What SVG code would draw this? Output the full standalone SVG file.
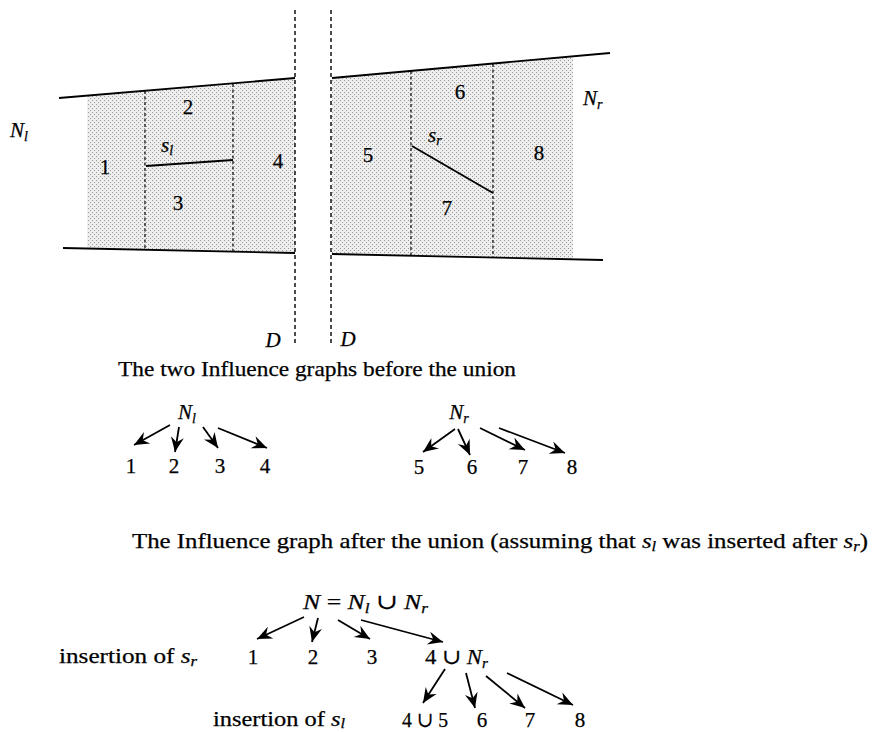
<svg xmlns="http://www.w3.org/2000/svg" width="877" height="732" viewBox="0 0 877 732">
<defs>
<pattern id="dots" width="4" height="4" patternUnits="userSpaceOnUse">
<rect width="4" height="4" fill="#eeeeee"/>
<rect x="0" y="0" width="1" height="1" fill="#999"/>
<rect x="2" y="2" width="1" height="1" fill="#999"/>
</pattern>
<marker id="ah" viewBox="-16 -8 17 16" refX="0" refY="0" markerWidth="17" markerHeight="16" markerUnits="userSpaceOnUse" orient="auto">
<path d="M0,0 L-15,-6.5 L-10,0 L-15,6.5 Z" fill="#000"/>
</marker>
<style>
text{font-family:"Liberation Serif","DejaVu Serif",serif;font-size:21px;fill:#000;stroke:#000;stroke-width:0.25}
.c{text-anchor:middle}
.i{font-style:italic}
.sub{font-size:14px;font-style:italic}
.ln{stroke:#000;stroke-width:1.8;fill:none}
.dl{stroke:#000;stroke-width:1.4;stroke-dasharray:4 3;fill:none}
.dv{stroke:#000;stroke-width:1.2;stroke-dasharray:3 2.5;fill:none}
.ar{stroke:#000;stroke-width:1.8;fill:none;marker-end:url(#ah)}
</style>
</defs>
<rect width="877" height="732" fill="#fff"/>

<g id="plan">
<polygon points="87,95.6 295,78 295,253 87,248.5" fill="url(#dots)"/>
<polygon points="332,78 573,56.3 573,259.3 332,254" fill="url(#dots)"/>
<line class="ln" x1="59" y1="98" x2="295" y2="78"/>
<line class="ln" x1="63" y1="248" x2="295" y2="253"/>
<line class="ln" x1="332" y1="78" x2="610" y2="53"/>
<line class="ln" x1="332" y1="254" x2="603" y2="260"/>
<line class="dv" x1="145" y1="91" x2="145" y2="250"/>
<line class="dv" x1="233" y1="84" x2="233" y2="252"/>
<line class="dv" x1="411" y1="71" x2="411" y2="256"/>
<line class="dv" x1="493" y1="64" x2="493" y2="258"/>
<line class="dl" x1="295" y1="10" x2="295" y2="344"/>
<line class="dl" x1="331" y1="10" x2="331" y2="344"/>
<line class="ln" x1="146" y1="166" x2="233" y2="160"/>
<line class="ln" x1="412" y1="146" x2="493" y2="193"/>
<text class="c" x="105" y="174">1</text>
<text class="c" x="188" y="114">2</text>
<text class="c" x="178" y="210">3</text>
<text class="c" x="278" y="168">4</text>
<text class="c" x="368" y="162">5</text>
<text class="c" x="460" y="99">6</text>
<text class="c" x="447" y="215">7</text>
<text class="c" x="539" y="160">8</text>
<text class="i" x="161" y="152">s<tspan class="sub" dy="3">l</tspan></text>
<text class="i" x="428" y="142">s<tspan class="sub" dy="3">r</tspan></text>
<text class="i" x="10" y="137">N<tspan class="sub" dy="4">l</tspan></text>
<text class="i" x="583" y="105">N<tspan class="sub" dy="4">r</tspan></text>
<text class="i c" x="273" y="347">D</text>
<text class="i c" x="348" y="346">D</text>
</g>

<text id="caption1" x="118" y="376" textLength="398" lengthAdjust="spacingAndGlyphs">The two Influence graphs before the union</text>

<g id="n-Nl"><text class="i c" x="187" y="419">N<tspan class="sub" dy="4">l</tspan></text></g>
<g id="n-1"><text class="c" x="131" y="473">1</text></g>
<g id="n-2"><text class="c" x="174" y="473">2</text></g>
<g id="n-3"><text class="c" x="220" y="473">3</text></g>
<g id="n-4"><text class="c" x="265" y="473">4</text></g>
<g id="n-Nr"><text class="i c" x="459" y="419">N<tspan class="sub" dy="4">r</tspan></text></g>
<g id="n-5"><text class="c" x="419" y="474">5</text></g>
<g id="n-6"><text class="c" x="472" y="474">6</text></g>
<g id="n-7"><text class="c" x="523" y="474">7</text></g>
<g id="n-8"><text class="c" x="572" y="474">8</text></g>

<text id="caption2" x="132" y="548" textLength="736" lengthAdjust="spacingAndGlyphs">The Influence graph after the union (assuming that <tspan class="i">s</tspan><tspan class="sub" dy="3">l</tspan><tspan dy="-3"> was inserted after </tspan><tspan class="i">s</tspan><tspan class="sub" dy="3">r</tspan><tspan dy="-3">)</tspan></text>

<g id="n-N"><text x="303" y="609" textLength="125" lengthAdjust="spacingAndGlyphs"><tspan class="i">N</tspan> = <tspan class="i">N</tspan><tspan class="sub" dy="4">l</tspan><tspan dy="-4"> ∪ </tspan><tspan class="i">N</tspan><tspan class="sub" dy="4">r</tspan></text></g>
<text id="lbl-sr" x="59" y="663" textLength="138" lengthAdjust="spacingAndGlyphs">insertion of <tspan class="i">s</tspan><tspan class="sub" dy="3">r</tspan></text>
<g id="m-1"><text class="c" x="253" y="664">1</text></g>
<g id="m-2"><text class="c" x="313" y="664">2</text></g>
<g id="m-3"><text class="c" x="372" y="664">3</text></g>
<g id="m-4Nr"><text x="425" y="664" textLength="63" lengthAdjust="spacingAndGlyphs">4 ∪ <tspan class="i">N</tspan><tspan class="sub" dy="4">r</tspan></text></g>
<text id="lbl-sl" x="213" y="726" textLength="132" lengthAdjust="spacingAndGlyphs">insertion of <tspan class="i">s</tspan><tspan class="sub" dy="2">l</tspan></text>
<g id="m-45"><text x="402" y="727" textLength="46" lengthAdjust="spacingAndGlyphs">4 ∪ 5</text></g>
<g id="m-6"><text class="c" x="482" y="727">6</text></g>
<g id="m-7"><text class="c" x="530" y="727">7</text></g>
<g id="m-8"><text class="c" x="580" y="727">8</text></g>

<g id="connectors">
<line class="ar" x1="170" y1="425" x2="134" y2="445"/>
<line class="ar" x1="179" y1="427" x2="175" y2="452"/>
<line class="ar" x1="203" y1="427" x2="218" y2="448"/>
<line class="ar" x1="218" y1="428" x2="267" y2="448"/>
<line class="ar" x1="455" y1="429" x2="423" y2="452"/>
<line class="ar" x1="458" y1="429" x2="470" y2="455"/>
<line class="ar" x1="480" y1="428" x2="525" y2="450"/>
<line class="ar" x1="499" y1="428" x2="565" y2="453"/>
<line class="ar" x1="304" y1="617" x2="257" y2="639"/>
<line class="ar" x1="318" y1="618" x2="312" y2="642"/>
<line class="ar" x1="338" y1="620" x2="370" y2="639"/>
<line class="ar" x1="361" y1="620" x2="443" y2="642"/>
<line class="ar" x1="445" y1="669" x2="423" y2="703"/>
<line class="ar" x1="466" y1="673" x2="475" y2="708"/>
<line class="ar" x1="486" y1="676" x2="525" y2="708"/>
<line class="ar" x1="507" y1="673" x2="573" y2="705"/>
</g>
</svg>
